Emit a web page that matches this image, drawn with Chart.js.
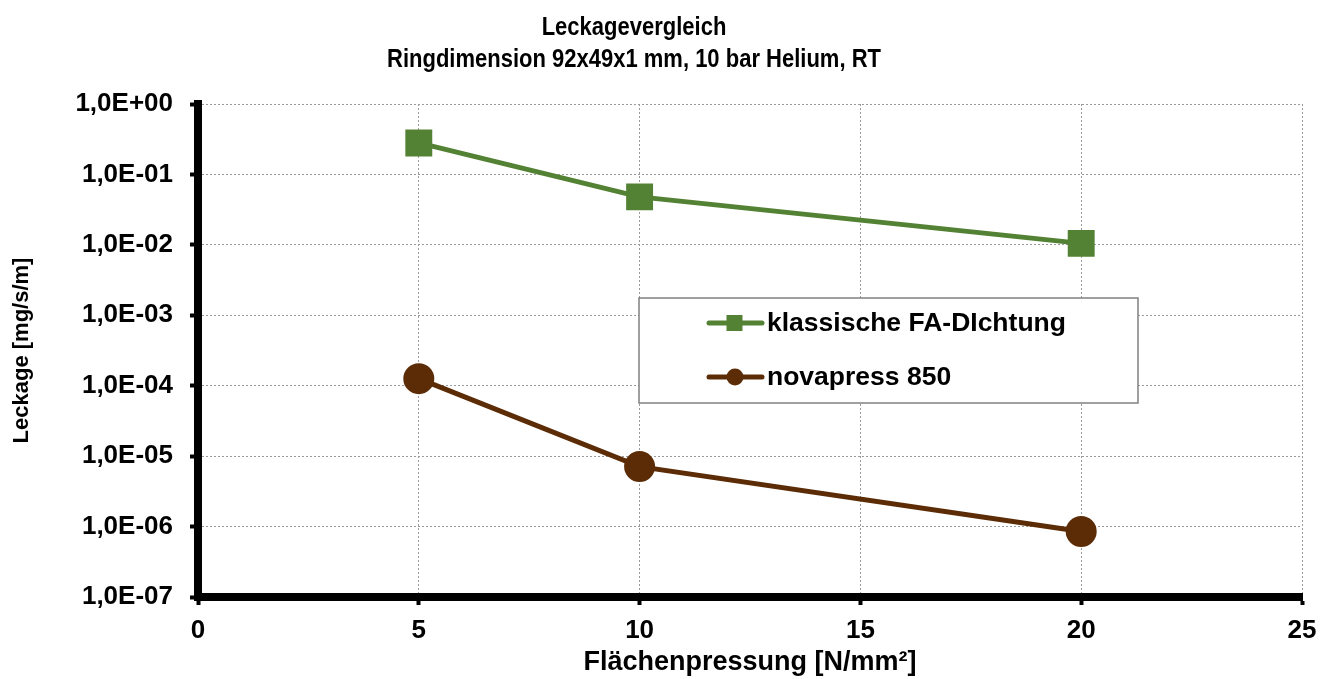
<!DOCTYPE html>
<html>
<head>
<meta charset="utf-8">
<script src="https://cdn.jsdelivr.net/npm/chart.js@4"></script>
<style>
  html, body { margin: 0; padding: 0; background: #fff; }
  #wrap { width: 1328px; height: 679px; }
</style>
</head>
<body>
<div id="wrap"><canvas id="myChart"></canvas></div>
<script>
const druck = [5, 10, 20];
const klassisch = [0.28, 0.048, 0.0105];
const novapress = [1.26e-4, 7.1e-6, 8.5e-7];
const yTicks = [1e-7, 1e-6, 1e-5, 1e-4, 1e-3, 1e-2, 1e-1, 1e0];
const xTicks = [0, 5, 10, 15, 20, 25];
const titel = ["Leckagevergleich", "Ringdimension 92x49x1 mm, 10 bar Helium, RT"];

const FONT = "'Liberation Sans', Arial, sans-serif";

const fmtExp = (v) => {
  const e = Math.round(Math.log10(v));
  const s = e < 0 ? "-" : "+";
  return "1,0E" + s + String(Math.abs(e)).padStart(2, "0");
};

// title drawn by hand: the original is a bit condensed and not centred on the canvas
const topTitle = {
  id: "topTitle",
  afterDraw(chart) {
    const ctx = chart.ctx;
    ctx.save();
    ctx.fillStyle = "#000";
    ctx.font = "bold 25px " + FONT;
    ctx.textAlign = "center";
    ctx.textBaseline = "alphabetic";
    ctx.translate(634, 0);
    ctx.scale(0.88, 1);
    ctx.fillText(titel[0], 0, 35);
    ctx.fillText(titel[1], 0, 67);
    ctx.restore();
  }
};

// legend box inside the plot, like the original
const boxLegend = {
  id: "boxLegend",
  afterDraw(chart) {
    const ctx = chart.ctx;
    const x = 639, y = 298, w = 499, h = 105;
    ctx.save();
    ctx.fillStyle = "#fff";
    ctx.fillRect(x, y, w, h);
    ctx.strokeStyle = "#808080";
    ctx.lineWidth = 1.5;
    ctx.strokeRect(x, y, w, h);
    chart.data.datasets.forEach((ds, i) => {
      const cy = i === 0 ? 323 : 377;
      ctx.strokeStyle = ds.borderColor;
      ctx.lineWidth = 5;
      ctx.lineCap = "round";
      ctx.beginPath();
      ctx.moveTo(709, cy);
      ctx.lineTo(762, cy);
      ctx.stroke();
      ctx.fillStyle = ds.backgroundColor;
      if (ds.pointStyle === "rect") {
        ctx.fillRect(734.5 - 8, cy - 8, 16, 16);
      } else {
        ctx.beginPath();
        ctx.arc(735, cy, 8.5, 0, Math.PI * 2);
        ctx.fill();
      }
      ctx.fillStyle = "#000";
      ctx.font = "bold 26.5px " + FONT;
      ctx.textBaseline = "middle";
      ctx.fillText(ds.label, 767, cy + 1);
    });
    ctx.restore();
  }
};

const data = {
  datasets: [
    {
      label: "klassische FA-DIchtung",
      data: druck.map((x, i) => ({ x: x, y: klassisch[i] })),
      borderColor: "#548235",
      backgroundColor: "#548235",
      borderWidth: 5,
      pointStyle: "rect",
      pointRadius: 15.5,
      pointHoverRadius: 15.5,
    },
    {
      label: "novapress 850",
      data: druck.map((x, i) => ({ x: x, y: novapress[i] })),
      borderColor: "#5b2c06",
      backgroundColor: "#5b2c06",
      borderWidth: 5,
      pointStyle: "circle",
      pointRadius: 13,
      pointHoverRadius: 13,
    },
  ],
};

const config = {
  type: "line",
  data: data,
  options: {
    responsive: true,
    maintainAspectRatio: false,
    animation: false,
    events: [],
    layout: { padding: { left: 0, right: 26, top: 104, bottom: 0 } },
    plugins: {
      legend: { display: false },
      tooltip: { enabled: false },
      title: { display: false },
    },
    scales: {
      x: {
        type: "linear",
        min: 0,
        max: 25,
        afterBuildTicks: (s) => { s.ticks = xTicks.map((v) => ({ value: v })); },
        afterFit: (s) => { s.height = 82; },
        ticks: {
          color: "#000",
          font: { family: FONT, size: 26, weight: "bold" },
          padding: 10,
          maxRotation: 0,
        },
        grid: {
          color: "#9a9a9a",
          lineWidth: 1,
          tickColor: "#000",
          tickWidth: 4,
          tickLength: 8,
        },
        border: { color: "#000", width: 8, dash: [2, 2] },
        title: {
          display: true,
          text: "Flächenpressung [N/mm²]",
          color: "#000",
          font: { family: FONT, size: 27, weight: "bold" },
          padding: { top: 0, bottom: 0 },
        },
      },
      y: {
        type: "logarithmic",
        min: 1e-7,
        max: 1,
        afterBuildTicks: (s) => { s.ticks = yTicks.map((v) => ({ value: v, major: true })); },
        afterFit: (s) => { s.width = 198; },
        ticks: {
          color: "#000",
          font: { family: FONT, size: 26, weight: "bold" },
          padding: 17,
          callback: (v) => fmtExp(v),
        },
        grid: {
          color: "#9a9a9a",
          lineWidth: 1,
          tickColor: "#000",
          tickWidth: 4,
          tickLength: 8,
        },
        border: { color: "#000", width: 8, dash: [2, 2] },
        title: {
          display: true,
          text: "Leckage [mg/s/m]",
          color: "#000",
          font: { family: FONT, size: 22, weight: "bold" },
          padding: { top: 9, bottom: 9 },
        },
      },
    },
  },
  plugins: [topTitle, boxLegend],
};

const myChart = new Chart(document.getElementById("myChart"), config);
</script>
</body>
</html>
